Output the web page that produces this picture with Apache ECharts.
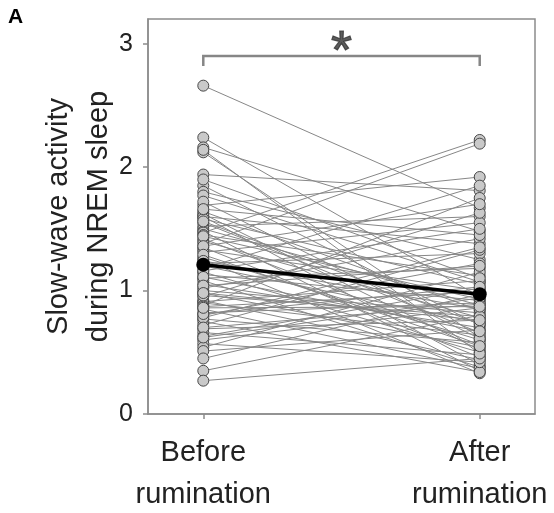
<!DOCTYPE html>
<html>
<head>
<meta charset="utf-8">
<script src="https://cdn.jsdelivr.net/npm/echarts@6/dist/echarts.min.js"></script>
<style>
  html, body { margin: 0; padding: 0; background: #fff; }
  #chart { width: 554px; height: 513px; }
</style>
</head>
<body>
<div id="chart"></div>
<script>
// Conditions on the x axis (Before = 1, After = 2)
const conditions = ['Before\nrumination', 'After\nrumination'];
const conditionPos = [1, 2];

// Slow-wave activity per participant, paired by index
const before = [2.66, 2.24, 2.16, 2.12, 1.94, 1.85, 1.80, 1.77, 1.69, 1.64,
                1.62, 1.60, 1.60, 1.58, 1.55, 1.52, 1.50, 1.48, 1.47, 1.45,
                1.42, 1.40, 1.38, 1.35, 1.33, 1.31, 1.27, 1.25, 1.22, 1.20,
                1.18, 1.15, 1.13, 1.10, 1.08, 1.05, 1.02, 1.00, 0.98, 0.95,
                0.92, 0.91, 0.90, 0.88, 0.85, 0.82, 0.80, 0.77, 0.75, 0.72,
                0.69, 0.66, 0.63, 0.60, 0.57, 0.54, 0.51, 0.45, 0.35, 0.27,
                2.14, 1.90, 1.72, 1.66, 1.56, 1.44, 1.36, 1.29, 1.24, 1.16,
                1.11, 1.04, 0.96, 0.87, 0.78, 0.70, 0.62, 0.98, 0.81, 0.86];
const after  = [1.67, 0.95, 1.48, 0.62, 1.81, 0.72, 1.25, 1.07, 1.92, 0.84,
                0.52, 1.38, 0.40, 1.05, 0.66, 1.60, 0.88, 0.35, 2.22, 1.12,
                0.56, 0.78, 2.19, 0.46, 1.00, 1.55, 0.60, 0.33, 1.30, 0.74,
                1.85, 0.50, 0.92, 1.18, 0.38, 0.70, 1.42, 0.82, 0.54, 1.63,
                0.44, 1.08, 0.64, 1.75, 0.37, 0.90, 1.22, 0.58, 0.34, 1.33,
                0.76, 0.48, 1.02, 0.86, 0.42, 1.15, 0.68, 0.97, 0.80, 0.45,
                0.49, 1.10, 0.61, 1.45, 0.73, 0.93, 1.70, 0.55, 0.85, 1.50,
                0.67, 1.20, 0.79, 0.99, 1.35, 0.89, 0.94, 0.76, 1.03, 0.87];

// Group means
const means = [1.21, 0.97];

// Significance bracket
const bracketTop = 2.90;
const bracketFoot = 2.82;
const starLevel = 2.925;

const yTicks = [0, 1, 2, 3];

const series = [];

// individual paired lines
for (let i = 0; i < before.length; i++) {
  series.push({
    type: 'line',
    data: [[conditionPos[0], before[i]], [conditionPos[1], after[i]]],
    symbol: 'none',
    silent: true,
    lineStyle: { color: '#878787', width: 1 },
    z: 2
  });
}

// individual points
const pts = [];
for (let i = 0; i < before.length; i++) {
  pts.push([conditionPos[0], before[i]]);
  pts.push([conditionPos[1], after[i]]);
}
series.push({
  type: 'scatter',
  data: pts,
  symbol: 'circle',
  symbolSize: 11,
  itemStyle: { color: '#c9c9c9', borderColor: '#484848', borderWidth: 1, opacity: 1 },
  z: 3
});

// mean line
series.push({
  type: 'line',
  data: [[conditionPos[0], means[0]], [conditionPos[1], means[1]]],
  symbol: 'circle',
  symbolSize: 14,
  itemStyle: { color: '#000' },
  lineStyle: { color: '#000', width: 3.5 },
  z: 4
});

// bracket
series.push({
  type: 'line',
  data: [[conditionPos[0], bracketFoot], [conditionPos[0], bracketTop],
         [conditionPos[1], bracketTop], [conditionPos[1], bracketFoot]],
  symbol: 'none',
  lineStyle: { color: '#868686', width: 2.5, cap: 'butt', join: 'miter' },
  z: 4
});

// significance star
series.push({
  type: 'scatter',
  data: [[(conditionPos[0] + conditionPos[1]) / 2, starLevel]],
  symbolSize: 0,
  label: {
    show: true,
    position: 'inside',
    formatter: '*',
    fontFamily: 'Liberation Sans',
    fontSize: 54,
    color: '#333',
    textBorderColor: '#333',
    textBorderWidth: 1.2
  },
  z: 5
});

const chart = echarts.init(document.getElementById('chart'), null, { renderer: 'canvas' });
chart.setOption({
  animation: false,
  backgroundColor: '#fff',
  textStyle: { fontFamily: 'Liberation Sans' },
  title: {
    text: 'A', left: 8, top: 7, padding: 0,
    textStyle: { fontSize: 21, fontWeight: 'bold', color: '#000', fontFamily: 'Liberation Sans' }
  },
  grid: {
    left: 148, right: 19, top: 19, bottom: 99,
    outerBoundsMode: 'none',
    containLabel: false,
    show: true, borderColor: '#8c8c8c', borderWidth: 1.5
  },
  xAxis: {
    type: 'value',
    min: 0.8, max: 2.2,
    splitLine: { show: false },
    axisLine: { show: true, lineStyle: { color: '#8c8c8c', width: 1.5 } },
    axisTick: { show: true, customValues: conditionPos, length: 5, lineStyle: { color: '#8c8c8c', width: 1.5 } },
    axisLabel: {
      customValues: conditionPos,
      formatter: v => conditions[conditionPos.indexOf(v)] || '',
      fontSize: 29, lineHeight: 42, margin: 18, color: '#222'
    }
  },
  yAxis: {
    type: 'value',
    min: 0, max: 3.2,
    name: 'Slow-wave activity\nduring NREM sleep',
    nameLocation: 'middle',
    nameRotate: 90,
    nameGap: 29,
    nameMoveOverlap: false,
    nameTextStyle: { fontSize: 29, lineHeight: 40, color: '#222' },
    splitLine: { show: false },
    axisLine: { show: true, lineStyle: { color: '#8c8c8c', width: 1.5 } },
    axisTick: { show: true, customValues: yTicks, length: 5, lineStyle: { color: '#8c8c8c', width: 1.5 } },
    axisLabel: { customValues: yTicks, fontSize: 25, margin: 15, color: '#222' }
  },
  series: series
});
</script>
</body>
</html>
